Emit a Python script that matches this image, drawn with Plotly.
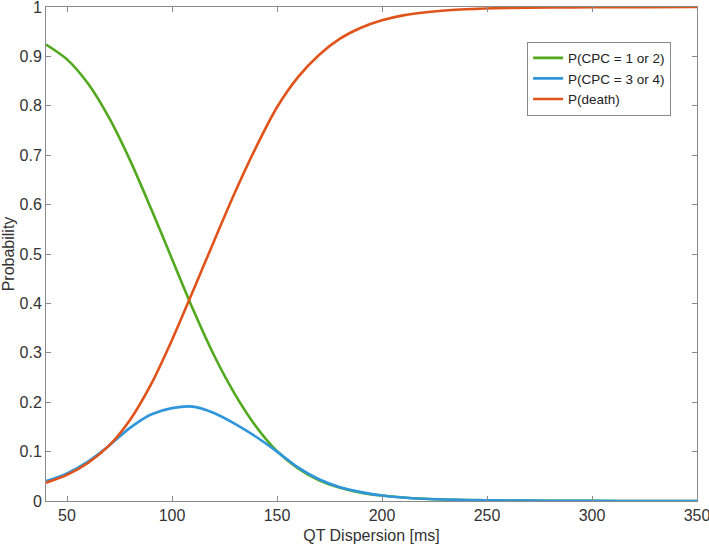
import plotly.graph_objects as go

qt_ms = [40, 50, 60, 70, 80, 90, 100, 110, 120, 130, 140, 150, 160, 170, 180, 190, 200,
         210, 220, 230, 240, 260, 280, 300, 325, 350]

p_cpc12 = [0.924, 0.894, 0.845, 0.776, 0.690, 0.592, 0.490, 0.388, 0.295, 0.216, 0.151, 0.101, 0.066,
           0.042, 0.027, 0.017, 0.011, 0.007, 0.0045, 0.003, 0.002, 0.001, 0.0005, 0.0002, 0.0001, 0.0]
p_cpc34 = [0.040, 0.056, 0.080, 0.112, 0.148, 0.175, 0.188, 0.191, 0.178, 0.156, 0.130, 0.100, 0.068,
           0.044, 0.028, 0.018, 0.011, 0.007, 0.0045, 0.003, 0.002, 0.001, 0.0005, 0.0002, 0.0001, 0.0]
p_death = [0.037, 0.053, 0.077, 0.112, 0.164, 0.236, 0.326, 0.425, 0.526, 0.625, 0.716, 0.797, 0.858,
           0.903, 0.936, 0.958, 0.973, 0.983, 0.989, 0.993, 0.9955, 0.998, 0.999, 0.9995, 0.9998, 1.0]

names = ["P(CPC = 1 or 2)", "P(CPC = 3 or 4)", "P(death)"]
colors = ["#52a81e", "#2f96dc", "#e0541c"]

fig = go.Figure()
for ys, name, col in zip([p_cpc12, p_cpc34, p_death], names, colors):
    fig.add_trace(go.Scatter(x=qt_ms, y=ys, mode="lines", name=name,
                             line=dict(color=col, width=2.6, shape="spline", smoothing=0.8)))

axis_common = dict(showline=True, linecolor="#8a8a8a", linewidth=1, mirror="ticks",
                   ticks="inside", ticklen=5, tickcolor="#8a8a8a", showgrid=False,
                   zeroline=False, automargin=False, ticklabeloverflow="allow",
                   tickfont=dict(size=16, color="#333333"))

fig.update_layout(
    width=709, height=547,
    margin=dict(l=46, r=12, t=7, b=46),
    paper_bgcolor="white", plot_bgcolor="white",
    font=dict(family="Liberation Sans, Arial, sans-serif", color="#333333"),
    xaxis=dict(range=[40, 350], tickvals=[50, 100, 150, 200, 250, 300, 350],
               title=dict(text="QT Dispersion [ms]", font=dict(size=16), standoff=6),
               **axis_common),
    yaxis=dict(range=[0, 1], tickvals=[0, 0.1, 0.2, 0.3, 0.4, 0.5, 0.6, 0.7, 0.8, 0.9, 1],
               ticktext=["0", "0.1", "0.2", "0.3", "0.4", "0.5", "0.6", "0.7", "0.8", "0.9", "1"],
               title=dict(text="Probability", font=dict(size=16), standoff=2),
               **axis_common),
    legend=dict(x=0.739, y=0.93, xanchor="left", yanchor="top",
                bordercolor="#8a8a8a", borderwidth=1, bgcolor="white",
                font=dict(size=13.5, color="#222222"), tracegroupgap=0, itemwidth=30),
    showlegend=True,
)

fig.write_html("out.html", config={"displayModeBar": False},
               post_script="document.body.style.margin='0';")
